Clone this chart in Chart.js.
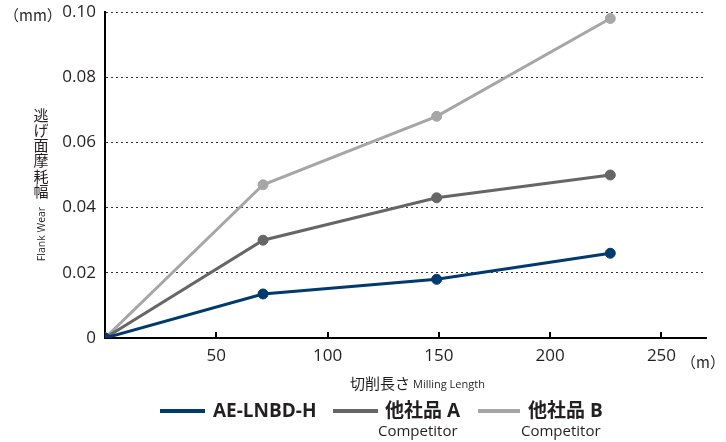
<!DOCTYPE html>
<html>
<head>
<meta charset="utf-8">
<script src="https://cdn.jsdelivr.net/npm/chart.js@4.4.1/dist/chart.umd.min.js"></script>
<style>
  body { margin: 0; background: #fff; }
  #wrap { position: relative; width: 726px; height: 442px; }
</style>
</head>
<body>
<div id="wrap"><canvas id="wearChart"></canvas></div>
<script>
// milling length (m)
var lengths = [0, 71, 149, 227];
// flank wear (mm)
var wearAE = [0, 0.0135, 0.018, 0.026];
var wearA = [0, 0.030, 0.043, 0.050];
var wearB = [0, 0.047, 0.068, 0.098];
var xTicks = [50, 100, 150, 200, 250];
var seriesNames = ['AE-LNBD-H', '他社品 A', '他社品 B'];
var seriesSub = ['', 'Competitor', 'Competitor'];
var seriesColors = ['#003a6e', '#666666', '#a6a6a6'];

var txt = '#231f20';
var fam = '"Open Sans", "Noto Sans CJK JP", sans-serif';

function toPoints(ys) {
    return lengths.map(function(x, i) { return { x: x, y: ys[i] }; });
}

function makeSet(i, ys) {
    return {
        label: seriesNames[i],
        data: toPoints(ys),
        borderColor: seriesColors[i],
        backgroundColor: seriesColors[i],
        borderWidth: 3,
        pointRadius: 5,
        pointBorderWidth: 1,
        tension: 0
    };
}

// axis titles, units, inward tick marks and the legend
var extras = {
    id: 'extras',
    afterDraw: function(chart) {
        var ctx = chart.ctx;
        var xs = chart.scales.x;
        var ys = chart.scales.y;
        var base = ys.getPixelForValue(0);
        ctx.save();

        ctx.strokeStyle = '#000';
        ctx.lineWidth = 2;
        xTicks.forEach(function(v) {
            var px = Math.round(xs.getPixelForValue(v));
            ctx.beginPath();
            ctx.moveTo(px, base);
            ctx.lineTo(px, base - 6);
            ctx.stroke();
        });

        ctx.fillStyle = txt;
        ctx.textBaseline = 'middle';
        ctx.textAlign = 'left';
        ctx.font = '15px "Noto Sans CJK JP"';
        ctx.fillText('（mm）', 4, 15);
        ctx.fillText('（m）', 681, 362);

        // x title
        ctx.font = '15px "Noto Sans CJK JP"';
        ctx.fillText('切削長さ', 350, 383);
        ctx.font = '11px ' + fam;
        ctx.fillText('Milling Length', 413, 385);

        // y title, vertical writing
        ctx.textAlign = 'center';
        ctx.font = '15px "Noto Sans CJK JP"';
        var yChars = '逃げ面摩耗幅'.split('');
        yChars.forEach(function(c, i) {
            ctx.fillText(c, 41, 115 + i * 15.2);
        });
        ctx.save();
        ctx.translate(42, 234);
        ctx.rotate(-Math.PI / 2);
        ctx.font = '10.5px ' + fam;
        ctx.fillText('Flank Wear', 0, 0);
        ctx.restore();

        // legend
        var lineX = [160, 333, 478];
        var lineW = [45, 45, 42];
        var textX = [213, 385, 528];
        for (var i = 0; i < seriesNames.length; i++) {
            ctx.strokeStyle = seriesColors[i];
            ctx.lineWidth = 4;
            ctx.beginPath();
            ctx.moveTo(lineX[i], 411);
            ctx.lineTo(lineX[i] + lineW[i], 411);
            ctx.stroke();
            ctx.textAlign = 'left';
            ctx.font = 'bold 19px ' + fam;
            ctx.fillText(seriesNames[i], textX[i], 412);
            if (seriesSub[i]) {
                ctx.font = '15px ' + fam;
                ctx.fillText(seriesSub[i], textX[i] - 7, 432);
            }
        }
        ctx.restore();
    }
};

var ctx = document.getElementById('wearChart').getContext('2d');
var wearChart = new Chart(ctx, {
    type: 'line',
    data: {
        datasets: [makeSet(0, wearAE), makeSet(1, wearA), makeSet(2, wearB)]
    },
    options: {
        responsive: true,
        maintainAspectRatio: false,
        animation: false,
        layout: { autoPadding: false, padding: { top: 12, right: 20, bottom: 0, left: 0 } },
        plugins: {
            legend: { display: false },
            tooltip: { enabled: false }
        },
        scales: {
            x: {
                type: 'linear',
                min: 0,
                max: 270,
                afterFit: function(s) {
                    s.height = 104;
                    s.paddingLeft = 0;
                    s.paddingRight = 0;
                },
                grid: { display: false, drawTicks: false },
                border: { display: true, color: '#000', width: 2 },
                ticks: {
                    stepSize: 50,
                    autoSkip: false,
                    maxRotation: 0,
                    padding: 8,
                    color: txt,
                    font: { family: fam, size: 17 },
                    callback: function(v) { return xTicks.indexOf(v) >= 0 ? v : ''; }
                }
            },
            y: {
                min: 0,
                max: 0.1,
                afterFit: function(s) {
                    s.width = 105;
                    s.paddingTop = 0;
                    s.paddingBottom = 0;
                },
                grid: { color: '#333', lineWidth: 1, drawTicks: false },
                border: { display: true, color: '#000', width: 2, dash: [2, 3] },
                ticks: {
                    stepSize: 0.02,
                    padding: 9,
                    color: txt,
                    font: { family: fam, size: 17 },
                    callback: function(v) { return v === 0 ? '0' : v.toFixed(2); }
                }
            }
        }
    },
    plugins: [extras]
});
</script>
</body>
</html>
